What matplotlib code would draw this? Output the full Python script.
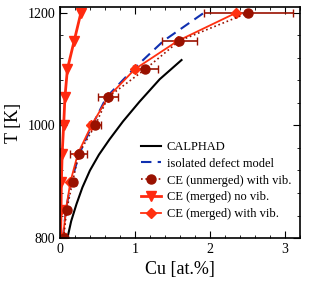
import matplotlib.pyplot as plt
from matplotlib.ticker import MultipleLocator

plt.rcParams['font.family'] = ['Liberation Serif', 'DejaVu Serif']

# temperatures of the CE points
temps = [800, 850, 900, 950, 1000, 1050, 1100, 1150, 1200]

# CALPHAD curve
calphad_cu = [0.10, 0.15, 0.22, 0.30, 0.40, 0.52, 0.66, 0.84, 1.06, 1.33, 1.62]
calphad_t = [800, 830, 860, 890, 920, 948, 975, 1007, 1042, 1082, 1116]

# isolated defect model
iso_cu = [0.04, 0.08, 0.15, 0.26, 0.43, 0.62, 0.98, 1.38, 1.92]

# CE (unmerged) with vib. + error bars
unm_cu = [0.05, 0.09, 0.17, 0.25, 0.47, 0.64, 1.14, 1.59, 2.51]
unm_err = [0.02, 0.03, 0.05, 0.11, 0.08, 0.13, 0.16, 0.23, 0.59]

# CE (merged) no vib.
novib_cu = [0.01, 0.015, 0.02, 0.03, 0.05, 0.067, 0.10, 0.19, 0.28]

# CE (merged) with vib.
vib_cu = [0.04, 0.08, 0.14, 0.24, 0.42, 0.64, 1.0, 1.57, 2.35]

fig = plt.figure(figsize=(3.12, 2.95), dpi=100)
ax = fig.add_axes([0.192, 0.193, 0.770, 0.783])

l1, = ax.plot(calphad_cu, calphad_t, color='black', lw=1.5, label='CALPHAD')
l2, = ax.plot(iso_cu, temps, color='#1030b0', lw=1.5, ls=(0, (5, 3)),
              label='isolated defect model')
eb = ax.errorbar(unm_cu, temps, xerr=unm_err, color='#991100', ls=':', lw=1.2,
                 marker='o', ms=6.5, capsize=3, elinewidth=1.2,
                 label='CE (unmerged) with vib.')
l4, = ax.plot(novib_cu, temps, color='#ff2a10', lw=2, marker='v', ms=6.5,
              label='CE (merged) no vib.')
l5, = ax.plot(vib_cu, temps, color='#ff3010', lw=1.3, marker='D', ms=5.5,
              label='CE (merged) with vib.')

ax.set_xlim(0, 3.2)
ax.set_ylim(800, 1210)
ax.xaxis.set_major_locator(MultipleLocator(1))
ax.xaxis.set_minor_locator(MultipleLocator(0.2))
ax.yaxis.set_major_locator(MultipleLocator(200))
ax.yaxis.set_minor_locator(MultipleLocator(40))
ax.tick_params(which='both', direction='in', top=True, right=True, labelsize=10)
ax.tick_params(which='major', length=5)
ax.tick_params(which='minor', length=2.5)
for s in ax.spines.values():
    s.set_linewidth(1.2)

ax.set_xlabel('Cu [at.%]', fontsize=13)
ax.set_ylabel('T [K]', fontsize=13)

ax.legend([l1, l2, eb[0], l4, l5],
          ['CALPHAD', 'isolated defect model', 'CE (unmerged) with vib.',
           'CE (merged) no vib.', 'CE (merged) with vib.'],
          loc='lower right', bbox_to_anchor=(1.0, 0.04), frameon=False,
          fontsize=9, handlelength=1.6, handletextpad=0.5, labelspacing=0.38,
          borderaxespad=0.3)

fig.savefig('out.png', dpi=100)
